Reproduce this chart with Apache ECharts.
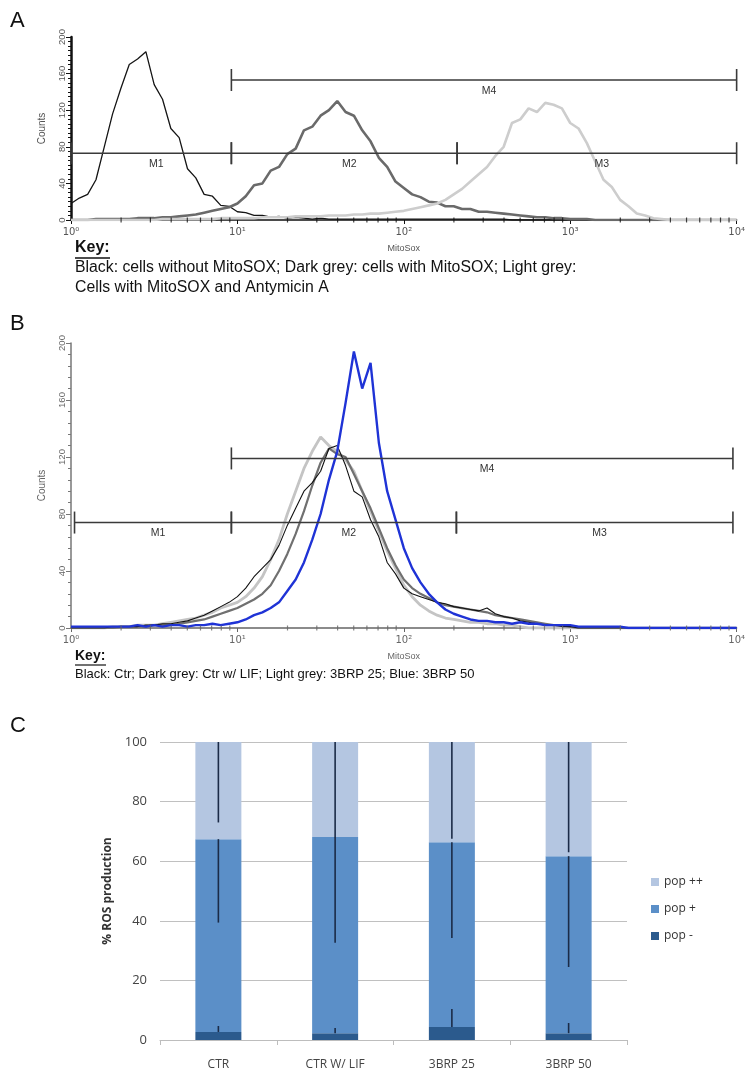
<!DOCTYPE html>
<html>
<head>
<meta charset="utf-8">
<script src="https://cdn.jsdelivr.net/npm/echarts@6/dist/echarts.min.js"></script>
<style>
  html, body { margin: 0; padding: 0; background: #fff; }
  #chart { width: 748px; height: 1073px; }
</style>
</head>
<body>
<div id="chart"></div>
<script>
// histogram channels (MitoSox intensity, log spaced)
const bins = [
  1, 1.122, 1.259, 1.413, 1.585, 1.778, 1.995, 2.239, 2.512, 2.818,
  3.162, 3.548, 3.981, 4.467, 5.012, 5.623, 6.310, 7.079, 7.943, 8.913,
  10, 11.22, 12.59, 14.13, 15.85, 17.78, 19.95, 22.39, 25.12, 28.18,
  31.62, 35.48, 39.81, 44.67, 50.12, 56.23, 63.10, 70.79, 79.43, 89.13,
  100, 112.2, 125.9, 141.3, 158.5, 177.8, 199.5, 223.9, 251.2, 281.8,
  316.2, 354.8, 398.1, 446.7, 501.2, 562.3, 631.0, 707.9, 794.3, 891.3,
  1000, 1122, 1259, 1413, 1585, 1778, 1995, 2239, 2512, 2818,
  3162, 3548, 3981, 4467, 5012, 5623, 6310, 7079, 7943, 8913,
  10000
];

// panel A counts
const noMitoSox = [
  18, 24, 28, 44, 80, 116, 144, 170, 176, 184,
  148, 132, 100, 90, 56, 46, 28, 26, 16, 15,
  9, 8, 5, 5, 3, 4, 2, 3, 2, 1,
  2, 1, 1, 1, 1, 1, 1, 1, 1, 1,
  1, 1, 1, 1, 1, 1, 1, 1, 1, 1,
  1, 1, 1, 0, 0, 0, 0, 0, 0, 0,
  0, 0, 0, 0, 0, 0, 0, 0, 0, 0,
  0, 0, 0, 0, 0, 0, 0, 0, 0, 0,
  0
];
const withMitoSox = [
  0, 0, 0, 1, 1, 1, 1, 1, 2, 2,
  2, 3, 3, 4, 5, 6, 8, 10, 12, 14,
  18, 26, 38, 40, 54, 58, 72, 78, 98, 102,
  114, 120, 130, 118, 114, 98, 86, 68, 58, 42,
  35, 28, 25, 20, 19, 15, 15, 12, 12, 9,
  9, 8, 7, 6, 5, 4, 3, 3, 2, 2,
  1, 1, 1, 0, 0, 0, 0, 0, 0, 0,
  0, 0, 0, 0, 0, 0, 0, 0, 0, 0,
  0
];
const withAntimycin = [
  0, 0, 0, 0, 0, 0, 0, 0, 0, 0,
  0, 1, 1, 1, 1, 1, 1, 1, 2, 2,
  2, 2, 2, 3, 3, 3, 3, 4, 4, 4,
  4, 5, 5, 5, 6, 6, 7, 7, 8, 9,
  10, 12, 14, 16, 18, 22, 28, 34, 42, 50,
  58, 70, 80, 106, 110, 122, 118, 128, 126, 122,
  106, 100, 84, 64, 44, 36, 22, 15, 7, 5,
  2, 1, 0, 0, 0, 0, 0, 0, 0, 0,
  0
];

// panel B counts
const ctr = [
  0, 0, 0, 0, 0, 1, 1, 1, 1, 2,
  2, 3, 3, 4, 5, 7, 9, 12, 15, 18,
  22, 28, 36, 42, 48, 58, 72, 84, 96, 102,
  110, 126, 128, 114, 96, 92, 76, 64, 46, 38,
  28, 24, 22, 20, 18, 17, 15, 14, 13, 12,
  14, 10, 8, 7, 5, 4, 3, 2, 2, 1,
  1, 0, 0, 0, 0, 0, 0, 0, 0, 0,
  0, 0, 0, 0, 0, 0, 0, 0, 0, 0,
  0
];
const ctrLif = [
  0, 0, 0, 0, 0, 0, 1, 1, 1, 1,
  2, 2, 2, 3, 4, 5, 6, 8, 10, 12,
  14, 17, 20, 24, 30, 40, 52, 66, 82, 100,
  116, 126, 122, 120, 108, 96, 84, 70, 56, 44,
  34, 28, 24, 21, 18, 16, 15, 14, 13, 12,
  11, 9, 8, 7, 6, 5, 4, 3, 2, 2,
  1, 0, 0, 0, 0, 0, 0, 0, 0, 0,
  0, 0, 0, 0, 0, 0, 0, 0, 0, 0,
  0
];
const brp25 = [
  0, 0, 0, 0, 0, 1, 1, 1, 2, 2,
  2, 3, 4, 5, 6, 7, 9, 11, 14, 16,
  18, 22, 28, 36, 48, 62, 80, 96, 112, 124,
  134, 128, 124, 118, 110, 96, 82, 68, 54, 42,
  30, 22, 16, 12, 9, 7, 6, 5, 4, 4,
  3, 3, 2, 2, 1, 0, 0, 0, 0, 0,
  0, 0, 0, 0, 0, 0, 0, 0, 0, 0,
  0, 0, 0, 0, 0, 0, 0, 0, 0, 0,
  0
];
const brp50 = [
  1, 1, 1, 1, 1, 1, 1, 1, 2, 1,
  2, 1, 2, 2, 1, 2, 2, 3, 2, 3,
  4, 6, 9, 11, 14, 18, 26, 34, 46, 62,
  80, 104, 124, 158, 194, 168, 186, 130, 96, 76,
  56, 42, 32, 24, 18, 13, 10, 8, 6, 5,
  5, 4, 4, 3, 4, 3, 3, 2, 2, 2,
  2, 1, 1, 1, 1, 1, 1, 0, 0, 0,
  0, 0, 0, 0, 0, 0, 0, 0, 0, 0,
  0
];

// gates
const gateNames = ['M1', 'M2', 'M3', 'M4'];
const gateFromA = [1, 9.2, 209, 9.2];
const gateToA = [9.2, 209, 10000, 10000];
const gateLevelA = [73, 73, 73, 153];
const gateFromB = [1.05, 9.2, 207, 9.2];
const gateToB = [9.2, 207, 9500, 9500];
const gateLevelB = [74, 74, 74, 119];

const minorTicks = [2, 3, 4, 5, 6, 7, 8, 9, 20, 30, 40, 50, 60, 70, 80, 90,
  200, 300, 400, 500, 600, 700, 800, 900, 2000, 3000, 4000, 5000, 6000, 7000, 8000, 9000];
const supDigits = ['\u2070', '\u00b9', '\u00b2', '\u00b3', '\u2074'];

// panel C
const groups = ['CTR', 'CTR W/ LIF', '3BRP 25', '3BRP 50'];
const popMinus = [2.7, 2.3, 4.4, 2.3];
const popPlus = [64.7, 65.8, 62.0, 59.4];
const popPlusPlus = [32.6, 31.9, 33.6, 38.3];
const errMinus = [2.0, 1.7, 6.0, 3.4];
const errPlus = [28, 35.5, 32.2, 37.2];
const errPlusPlus = [27, 32, 32.5, 37];

const chart = echarts.init(document.getElementById('chart'));

const pair = arr => bins.map((x, i) => [x, arr[i]]);

function histLine(name, arr, color, width, idx) {
  return {
    name: name, type: 'line', xAxisIndex: idx, yAxisIndex: idx,
    data: pair(arr), showSymbol: false, symbol: 'none', silent: true,
    lineStyle: { color: color, width: width }
  };
}

function gateSeries(from, to, level, idx) {
  return {
    type: 'custom', xAxisIndex: idx, yAxisIndex: idx, silent: true, clip: false, z: 5,
    data: gateNames.map((n, i) => [from[i], to[i], level[i]]),
    encode: { x: [0, 1], y: 2 },
    renderItem: function (params, api) {
      const i = params.dataIndex;
      const a = api.coord([from[i], level[i]]);
      const b = api.coord([to[i], level[i]]);
      const st = { stroke: '#3a3a3a', lineWidth: 1.6 };
      return {
        type: 'group',
        children: [
          { type: 'line', shape: { x1: a[0], y1: a[1], x2: b[0], y2: b[1] }, style: st },
          { type: 'line', shape: { x1: a[0], y1: a[1] - 11, x2: a[0], y2: a[1] + 11 }, style: st },
          { type: 'line', shape: { x1: b[0], y1: b[1] - 11, x2: b[0], y2: b[1] + 11 }, style: st },
          {
            type: 'text', x: (a[0] + b[0]) / 2 + 5, y: a[1] + 11,
            style: { text: gateNames[i], fill: '#333', fontSize: 10.5, fontFamily: 'Liberation Sans', align: 'center', verticalAlign: 'middle' }
          }
        ]
      };
    }
  };
}

function minorTickSeries(idx, color) {
  return {
    type: 'scatter', xAxisIndex: idx, yAxisIndex: idx, silent: true, z: 4,
    data: minorTicks.map(v => [v, 0]),
    symbol: 'rect', symbolSize: [1.2, 5],
    itemStyle: { color: color }
  };
}

function errSeries(tops, errs, dir) {
  return {
    type: 'custom', xAxisIndex: 2, yAxisIndex: 2, silent: true, z: 6,
    data: tops.map((t, i) => [i, t, t + dir * errs[i]]),
    encode: { x: 0, y: [1, 2] },
    renderItem: function (params, api) {
      const p1 = api.coord([api.value(0), api.value(1)]);
      const p2 = api.coord([api.value(0), api.value(2)]);
      return {
        type: 'line',
        shape: { x1: p1[0], y1: p1[1], x2: p2[0], y2: p2[1] },
        style: { stroke: '#1b2b47', lineWidth: 1.6 }
      };
    }
  };
}

function logAxis(idx, color, labelColor) {
  return {
    type: 'log', logBase: 10, min: 1, max: 10000, gridIndex: idx,
    name: 'MitoSox', nameLocation: 'middle', nameGap: 24,
    nameTextStyle: { fontSize: 9, color: labelColor, fontFamily: 'Liberation Sans' },
    axisLine: { lineStyle: { color: color, width: 1.5 } },
    axisTick: { length: 4, lineStyle: { color: color } },
    axisLabel: {
      fontSize: 10, color: labelColor, margin: 7, fontFamily: 'DejaVu Sans',
      formatter: v => '10' + supDigits[Math.round(Math.log10(v))]
    },
    splitLine: { show: false }
  };
}

function countAxis(idx, color, labelColor, lineWidth, minorSplit) {
  return {
    type: 'value', min: 0, max: 200, interval: 40, gridIndex: idx,
    name: 'Counts', nameLocation: 'middle', nameGap: 24,
    nameTextStyle: { fontSize: 10, color: labelColor, fontFamily: 'Liberation Sans' },
    axisLine: { show: true, lineStyle: { color: color, width: lineWidth } },
    axisTick: { show: true, length: 5, lineStyle: { color: color } },
    minorTick: { show: true, splitNumber: minorSplit, length: 3, lineStyle: { color: color } },
    axisLabel: { rotate: 90, fontSize: 9.5, color: labelColor, margin: 4, fontFamily: 'Liberation Sans' },
    splitLine: { show: false }
  };
}

const keyFont = 'Liberation Sans';

const option = {
  animation: false,
  backgroundColor: '#fff',
  grid: [
    { left: 71, top: 37, width: 669, height: 183 },
    { left: 71, top: 343, width: 667, height: 285 },
    { left: 160, top: 742, width: 467, height: 298 }
  ],
  xAxis: [
    logAxis(0, '#111', '#555'),
    logAxis(1, '#666', '#666'),
    {
      type: 'category', gridIndex: 2, data: groups,
      axisLine: { lineStyle: { color: '#bdbdbd', width: 1 } },
      axisTick: { show: true, length: 5, lineStyle: { color: '#bdbdbd' } },
      axisLabel: { fontSize: 12, color: '#444', margin: 19, fontFamily: 'Open Sans' }
    }
  ],
  yAxis: [
    countAxis(0, '#111', '#555', 2.5, 8),
    countAxis(1, '#777', '#666', 1.5, 5),
    {
      type: 'value', gridIndex: 2, min: 0, max: 100, interval: 20,
      name: '% ROS production', nameLocation: 'middle', nameGap: 44,
      nameTextStyle: { fontSize: 12, color: '#333', fontFamily: 'Open Sans', fontWeight: 'bold' },
      axisLine: { show: false }, axisTick: { show: false },
      axisLabel: { fontSize: 13, color: '#444', margin: 13, fontFamily: 'Open Sans' },
      splitLine: { lineStyle: { color: '#c0c0c0', width: 1 } }
    }
  ],
  legend: {
    orient: 'vertical', left: 651, top: 876, itemGap: 15, padding: 0,
    itemWidth: 8, itemHeight: 8, icon: 'rect',
    textStyle: { fontSize: 12, color: '#333', fontFamily: 'Open Sans' },
    data: ['pop ++', 'pop +', 'pop -']
  },
  graphic: [
    { type: 'text', left: 10, top: 10, style: { text: 'A', fontSize: 22, fontFamily: keyFont, fill: '#111' } },
    { type: 'text', left: 10, top: 313, style: { text: 'B', fontSize: 22, fontFamily: keyFont, fill: '#111' } },
    { type: 'text', left: 10, top: 715, style: { text: 'C', fontSize: 22, fontFamily: keyFont, fill: '#111' } },
    { type: 'text', left: 75, top: 240, style: { text: 'Key:', fontSize: 16, fontWeight: 'bold', fontFamily: keyFont, fill: '#111' } },
    { type: 'line', shape: { x1: 75, y1: 258, x2: 110, y2: 258 }, style: { stroke: '#111', lineWidth: 1.3 } },
    { type: 'text', left: 75, top: 260, style: { text: 'Black: cells without MitoSOX; Dark grey: cells with MitoSOX; Light grey:', fontSize: 15.8, fontFamily: keyFont, fill: '#111' } },
    { type: 'text', left: 75, top: 280, style: { text: 'Cells with MitoSOX and Antymicin A', fontSize: 15.8, fontFamily: keyFont, fill: '#111' } },
    { type: 'text', left: 75, top: 649, style: { text: 'Key:', fontSize: 14, fontWeight: 'bold', fontFamily: keyFont, fill: '#111' } },
    { type: 'line', shape: { x1: 75, y1: 665, x2: 106, y2: 665 }, style: { stroke: '#111', lineWidth: 1.2 } },
    { type: 'text', left: 75, top: 668, style: { text: 'Black: Ctr; Dark grey: Ctr w/ LIF; Light grey: 3BRP 25; Blue: 3BRP 50', fontSize: 13, fontFamily: keyFont, fill: '#111' } }
  ],
  series: [
    histLine('no MitoSOX', noMitoSox, '#151515', 1.3, 0),
    histLine('MitoSOX', withMitoSox, '#6a6a6a', 2.6, 0),
    histLine('MitoSOX + Antimycin A', withAntimycin, '#cdcdcd', 2.6, 0),
    gateSeries(gateFromA, gateToA, gateLevelA, 0),
    minorTickSeries(0, '#111'),

    histLine('3BRP 25', brp25, '#c4c4c4', 2.8, 1),
    histLine('Ctr w/ LIF', ctrLif, '#707070', 2.2, 1),
    histLine('Ctr', ctr, '#111', 1.1, 1),
    histLine('3BRP 50', brp50, '#1f33d6', 2.4, 1),
    gateSeries(gateFromB, gateToB, gateLevelB, 1),
    minorTickSeries(1, '#666'),

    { name: 'pop -', type: 'bar', stack: 'ros', xAxisIndex: 2, yAxisIndex: 2, barWidth: 46, data: popMinus, itemStyle: { color: '#2b5a8d' } },
    { name: 'pop +', type: 'bar', stack: 'ros', xAxisIndex: 2, yAxisIndex: 2, barWidth: 46, data: popPlus, itemStyle: { color: '#5b8fc8' } },
    { name: 'pop ++', type: 'bar', stack: 'ros', xAxisIndex: 2, yAxisIndex: 2, barWidth: 46, data: popPlusPlus, itemStyle: { color: '#b4c6e1' } },
    errSeries(popMinus, errMinus, 1),
    errSeries(popMinus.map((v, i) => v + popPlus[i]), errPlus, -1),
    errSeries(popMinus.map((v, i) => v + popPlus[i] + popPlusPlus[i]), errPlusPlus, -1)
  ]
};

chart.setOption(option);
</script>
</body>
</html>
